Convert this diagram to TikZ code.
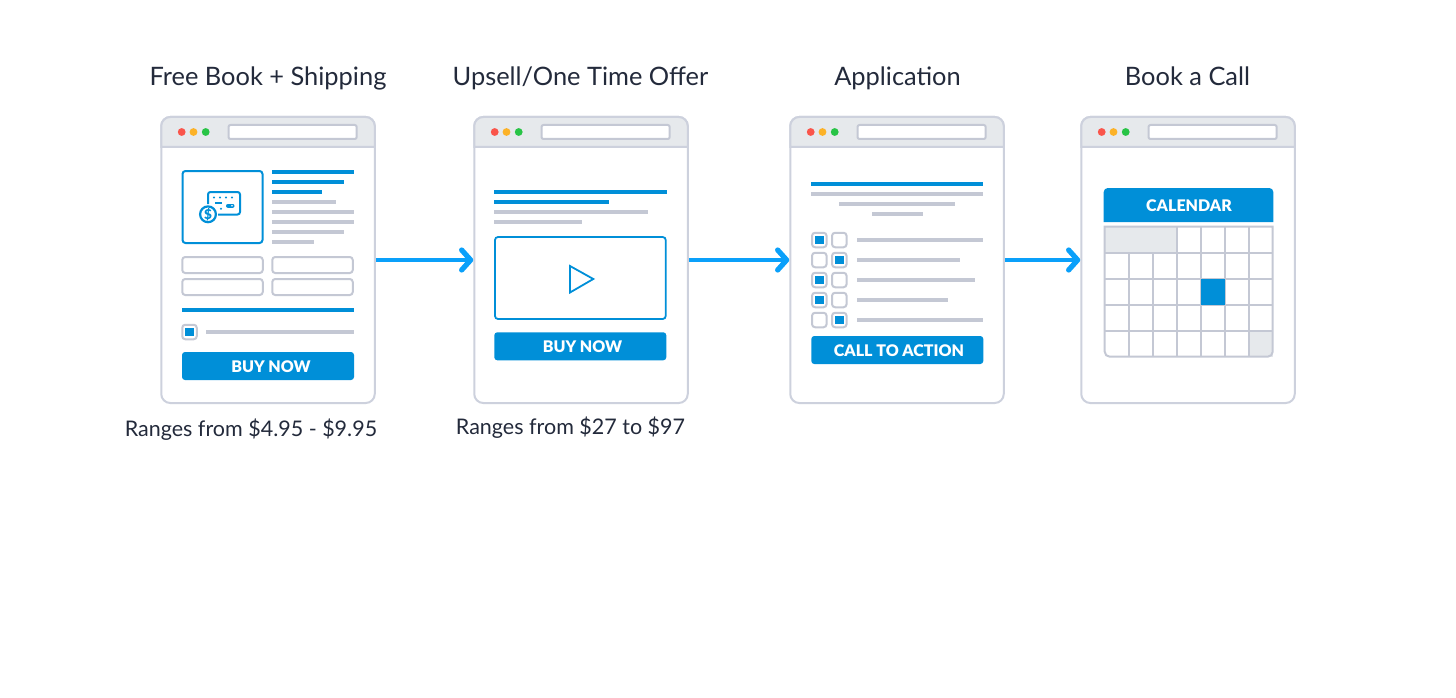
\documentclass[tikz,border=0pt]{standalone}
\usepackage{fontspec}
\setmainfont{Lato}
\newfontfamily\heavyfont{Lato Black}
\usetikzlibrary{arrows.meta, positioning, calc}
\definecolor{webblue}{RGB}{0, 143, 216}
\definecolor{arrowblue}{RGB}{10, 160, 250}
\definecolor{framegrey}{RGB}{205, 209, 221}
\definecolor{bargrey}{RGB}{196, 200, 212}
\definecolor{headgrey}{RGB}{230, 233, 236}
\definecolor{inkcolor}{RGB}{35, 42, 59}
\definecolor{dotred}{RGB}{250, 85, 75}
\definecolor{dotyellow}{RGB}{252, 178, 40}
\definecolor{dotgreen}{RGB}{40, 196, 70}
\tikzset{
    windowbox/.style={draw=framegrey, fill=white, line width=2pt, rounded corners=9pt, minimum width=213.5pt, minimum height=286pt, inner sep=0pt},
    titlelabel/.style={anchor=base, text=inkcolor, font=\fontsize{25.4}{28}\selectfont, inner sep=0pt},
    pricelabel/.style={anchor=base, text=inkcolor, font=\fontsize{21.5}{24}\selectfont, inner sep=0pt},
    actionbtn/.style={fill=webblue, rounded corners=3pt, minimum width=172pt, minimum height=28pt, inner sep=0pt},
    btnlabel/.style={text=white, inner sep=0pt, font=\fontsize{16}{18}\heavyfont},
    fieldbox/.style={draw=bargrey, fill=white, line width=2pt, rounded corners=3pt, inner sep=0pt},
    chkbox/.style={fieldbox, minimum size=14.5pt},
    bluebar/.style={fill=webblue},
    greybar/.style={fill=bargrey},
    flowarrow/.style={draw=arrowblue, line width=3.2pt, -{Straight Barb[length=9pt, width=20pt, line width=5.2pt, round]}},
    gridline/.style={draw=bargrey, line width=2pt}
}
\begin{document}
\begin{tikzpicture}[x=1pt, y=-1pt]
    \useasboundingbox (0,0) rectangle (1456,698);
    \fill[white] (0,0) rectangle (1456,698);

    % Browser windows
    \foreach \cx/\win in {268/win1, 581/win2, 897/win3, 1188/win4} {
        \node[windowbox] (\win) at (\cx,260) {};
        \draw[draw=framegrey, fill=headgrey, line width=2pt] (\cx-106.75,147) [rounded corners=9pt] -- (\cx-106.75,117) -- (\cx+106.75,117) [sharp corners] -- (\cx+106.75,147) -- cycle;
        \fill[dotred] (\cx-86.3,132) circle (3.9);
        \fill[dotyellow] (\cx-74.5,132) circle (3.9);
        \fill[dotgreen] (\cx-62.3,132) circle (3.9);
        \draw[draw=bargrey, fill=white, line width=2pt, rounded corners=2pt] (\cx-39.5,125) rectangle (\cx+88.7,139);
    }

    % Titles
    \node[titlelabel] (title1) at (268,85.5) {Free Book + Shipping};
    \node[titlelabel] (title2) at (580.5,85.5) {Upsell/One Time Offer};
    \node[titlelabel] (title3) at (897.5,85.5) {Application};
    \node[titlelabel] (title4) at (1187.5,85.5) {Book a Call};

    % Prices
    \node[pricelabel] (price1) at (251,436) {Ranges from \$4.95 - \$9.95};
    \node[pricelabel] (price2) at (570.5,434) {Ranges from \$27 to \$97};

    % Arrows
    \draw[flowarrow] (win1) -- (win2);
    \draw[flowarrow] (win2) -- (win3);
    \draw[flowarrow] (win3) -- (win4);

    % Window 1: image box and icon
    \draw[draw=webblue, line width=2pt, rounded corners=3pt] (182.5,171) rectangle (262.5,243);
    \draw[draw=webblue, line width=2pt, rounded corners=2.5pt] (208,204) -- (208,192) -- (240,192) -- (240,214.5) -- (218,214.5);
    \foreach \x in {214,220,226,232} {
        \fill[webblue] (\x,197.5) circle (1.1);
    }
    \draw[draw=webblue, line width=1.8pt] (215,202.7) -- (222,202.7);
    \fill[webblue] (221,208.7) circle (1.1);
    \draw[draw=webblue, line width=4pt, line cap=round] (228,205.7) -- (232.5,205.7);
    \fill[white] (232,205.7) circle (0.9);
    \draw[draw=webblue, fill=white, line width=2.2pt] (208,214.3) circle (7.9);
    \node[text=webblue, inner sep=0pt, font=\fontsize{13.5}{13.5}\heavyfont] (dollar) at (208,214.3) {\$};

    % Window 1: text bars
    \foreach \y/\xend in {172/353.7, 181.7/343.7, 191.7/321.7} {
        \fill[bluebar] (271.7,\y-2) rectangle (\xend,\y+2);
    }
    \foreach \y/\xend in {201.7/335.7, 211.7/353.7, 221.7/353.7, 231.7/343.7, 241.7/313.7} {
        \fill[greybar] (271.7,\y-2) rectangle (\xend,\y+2);
    }

    % Window 1: form
    \foreach \row/\y in {1/265, 2/287} {
        \node[fieldbox, minimum width=80.5pt, minimum height=16pt] (fieldl\row) at (222.5,\y) {};
        \node[fieldbox, minimum width=80.5pt, minimum height=16pt] (fieldr\row) at (312.5,\y) {};
    }
    \fill[bluebar] (182,308) rectangle (354,312);
    \node[chkbox] (chkone) at (189.5,332) {};
    \fill[bluebar] (185.3,327.8) rectangle +(8.4,8.4);
    \fill[greybar] (206,330) rectangle (354,334);
    \node[actionbtn] (btn1) at (268,366) {};
    \node[btnlabel] (btntext1) at (271,366.5) {BUY NOW};

    % Window 2
    \fill[bluebar] (494.3,190) rectangle (666.5,194);
    \fill[bluebar] (494.3,200) rectangle (608.7,204);
    \fill[greybar] (494.3,210) rectangle (648.3,214);
    \fill[greybar] (494.3,220) rectangle (582.3,224);
    \draw[draw=webblue, line width=1.8pt, rounded corners=3pt] (495,237) rectangle (665.7,319);
    \draw[draw=webblue, line width=1.8pt] (570,266) -- (570,292.5) -- (593.3,279) -- cycle;
    \node[actionbtn] (btn2) at (580.3,346.3) {};
    \node[btnlabel] (btntext2) at (582.5,346.5) {BUY NOW};

    % Window 3
    \fill[bluebar] (811.3,182) rectangle (983.3,186);
    \fill[greybar] (811.3,192) rectangle (983.3,196);
    \fill[greybar] (839.3,202) rectangle (955.3,206);
    \fill[greybar] (871.7,212) rectangle (923.3,216);
    \foreach \row/\y/\xend/\xon in {1/240/983.3/819.3, 2/260/960/839.3, 3/280/975.3/819.3, 4/300/948/819.3, 5/320/983.3/839.3} {
        \node[chkbox] (chkl\row) at (819.3,\y) {};
        \node[chkbox] (chkr\row) at (839.3,\y) {};
        \fill[bluebar] (\xon-4.2,\y-4.2) rectangle +(8.4,8.4);
        \fill[greybar] (857.3,\y-2) rectangle (\xend,\y+2);
    }
    \node[actionbtn] (btn3) at (897.3,350) {};
    \node[btnlabel] (btntext3) at (899,350.5) {CALL TO ACTION};

    % Window 4: calendar
    \fill[webblue] (1103.7,222) [rounded corners=4pt] -- (1103.7,188) -- (1273.3,188) [sharp corners] -- (1273.3,222) -- cycle;
    \node[btnlabel] (calhead) at (1189,205.5) {CALENDAR};
    \fill[headgrey] (1104.7,226.7) rectangle (1176.7,252.7);
    \fill[headgrey] (1248.7,330.7) rectangle (1272.7,356.7);
    \foreach \y in {252.7,278.7,304.7,330.7} {
        \draw[gridline] (1104.7,\y) -- (1272.7,\y);
    }
    \foreach \x in {1128.7,1152.7} {
        \draw[gridline] (\x,252.7) -- (\x,356.7);
    }
    \foreach \x in {1176.7,1200.7,1224.7,1248.7} {
        \draw[gridline] (\x,226.7) -- (\x,356.7);
    }
    \fill[webblue] (1200.7,278.7) rectangle (1224.7,304.7);
    \draw[gridline] (1104.7,226.7) -- (1272.7,226.7) [rounded corners=5pt] -- (1272.7,356.7) -- (1104.7,356.7) [sharp corners] -- cycle;
\end{tikzpicture}
\end{document}
